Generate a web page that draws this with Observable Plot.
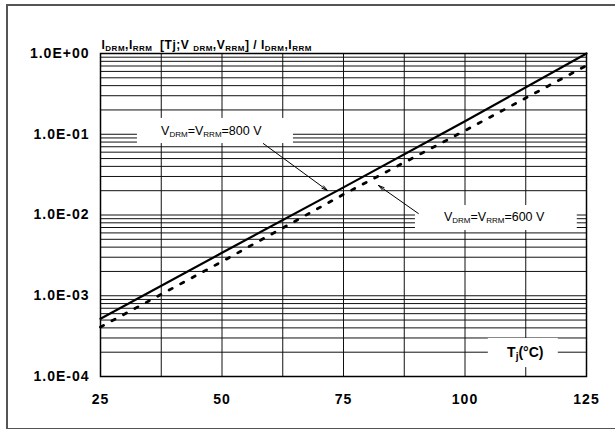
<!DOCTYPE html>
<html>
<head>
<meta charset="utf-8">
<script src="https://cdn.jsdelivr.net/npm/d3@7"></script>
<script src="https://cdn.jsdelivr.net/npm/@observablehq/plot@0.6"></script>
<style>
  html, body { margin: 0; padding: 0; background: white; overflow: hidden; }
  #wrap { position: relative; width: 615px; height: 429px; }
  #outer { position: absolute; left: 6px; top: 4px; width: 700px; height: 422px;
           border: 2px solid #555; border-right: none; pointer-events: none; }
  #wrap svg text { letter-spacing: 1px; }
  #wrap svg text.plain { letter-spacing: 0; }
  #wrap svg text.title { letter-spacing: 0.5px; }
</style>
</head>
<body>
<div id="wrap"><div id="outer"></div></div>
<script>
// ---- data ----
const tempC = [25, 50, 75, 100, 125];
const leak800 = [5.2e-4, 3.4e-3, 2.2e-2, 0.145, 1.0];
const leak600 = [4.1e-4, 2.65e-3, 1.8e-2, 0.111, 0.71];

const xTickValues = [25, 50, 75, 100, 125];
const xGridValues = [25, 37.5, 50, 62.5, 75, 87.5, 100, 112.5, 125];
const yTickValues = [1e-4, 1e-3, 1e-2, 1e-1, 1];
const yTickLabels = ["1.0E-04", "1.0E-03", "1.0E-02", "1.0E-01", "1.0E+00"];
const yGridValues = [1e-4, 1e-3, 1e-2, 1e-1].flatMap(d => [1,2,3,4,5,6,7,8,9].map(m => +(m * d).toPrecision(3))).concat([1]);

const titleParts = [["I",0],["DRM",1],[",I",0],["RRM",1],["  [Tj;V ",0],["DRM",1],[",V",0],["RRM",1],["] / I",0],["DRM",1],[",I",0],["RRM",1]];
const label800Parts = [["V",0],["DRM",1],["=V",0],["RRM",1],["=800 V",0]];
const label600Parts = [["V",0],["DRM",1],["=V",0],["RRM",1],["=600 V",0]];
const xLabelParts = [["T",0],["j",1],["(°C)",0]];

const plain = parts => parts.map(p => p[0]).join("");

// ---- annotation placement (data units) ----
const boxes = [
  {x1: 32.6, x2: 64.7, y1: 0.0767, y2: 0.157},
  {x1: 89.8, x2: 123.1, y1: 0.00643, y2: 0.0131},
  {x1: 104.8, x2: 119.2, y1: 1.29e-4, y2: 2.96e-4}
];
const arrows = [
  {x1: 58.5, y1: 0.0767, x2: 71.7, y2: 0.0201},
  {x1: 90.4, y1: 0.01044, x2: 82.2, y2: 0.0232}
];
const labels = [
  {x: 47.8, y: 0.111, t: plain(label800Parts)},
  {x: 106.0, y: 0.0094, t: plain(label600Parts)}
];

const s800 = tempC.map((t, i) => ({t, v: leak800[i]}));
const s600 = tempC.map((t, i) => ({t, v: leak600[i]}));

const chart = Plot.plot({
  width: 615, height: 429,
  marginLeft: 100, marginRight: 29, marginTop: 53, marginBottom: 53,
  style: {fontFamily: "'Liberation Sans', Arial, sans-serif", fontSize: "14px", fontWeight: "bold", background: "white", color: "black", overflow: "visible"},
  x: {domain: [25, 125], ticks: xTickValues, tickSize: 0, tickPadding: 18, label: null},
  y: {type: "log", domain: [1e-4, 1], ticks: yTickValues, tickFormat: d => yTickLabels[yTickValues.indexOf(d)], tickSize: 0, tickPadding: 11, label: null},
  marks: [
    Plot.ruleX(xGridValues, {stroke: "#111", strokeWidth: 1}),
    Plot.ruleY(yGridValues, {stroke: "#111", strokeWidth: 1}),
    Plot.rect(boxes, {x1: "x1", x2: "x2", y1: "y1", y2: "y2", fill: "white"}),
    Plot.line(s800, {x: "t", y: "v", stroke: "black", strokeWidth: 2.2}),
    Plot.line(s600, {x: "t", y: "v", stroke: "black", strokeWidth: 2.8, strokeDasharray: "3.5,9.5"}),
    Plot.arrow(arrows, {x1: "x1", y1: "y1", x2: "x2", y2: "y2", stroke: "black", strokeWidth: 1, headLength: 9, headAngle: 28}),
    Plot.text(labels, {x: "x", y: "y", text: "t", fontWeight: "normal", fontSize: 12.5, fill: "black"}),
    Plot.text([plain(xLabelParts)], {x: [112.4], y: [1.98e-4], fontSize: 14, fill: "black"}),
    Plot.text([plain(titleParts)], {frameAnchor: "top-left", textAnchor: "start", dy: -13, dx: 1, fontSize: 12, fill: "black"}),
    Plot.frame({stroke: "black", strokeWidth: 1.5})
  ]
});
document.getElementById("wrap").prepend(chart);

// rich text (subscripts)
function richify(parts, subSize, shift, cls) {
  const target = plain(parts);
  d3.select(chart).selectAll("text").filter(function() { return this.textContent === target; }).each(function() {
    const el = d3.select(this);
    el.text("");
    el.classed(cls, true);
    let down = false;
    for (const [s, sub] of parts) {
      const ts = el.append("tspan").text(s);
      if (sub && !down) { ts.attr("dy", shift).attr("font-size", subSize); down = true; }
      else if (sub) { ts.attr("font-size", subSize); }
      else if (!sub && down) { ts.attr("dy", -shift); down = false; }
    }
  });
}
richify(label800Parts, 8, 2, "plain");
richify(label600Parts, 8, 2, "plain");
richify(xLabelParts, 10, 3, "plain");
richify(titleParts, 8, 1.5, "title");
</script>
</body>
</html>
